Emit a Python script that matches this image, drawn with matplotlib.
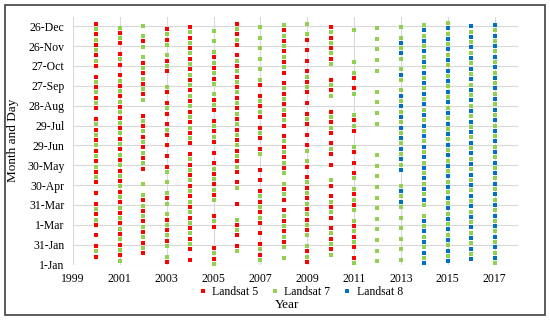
import matplotlib
matplotlib.use("Agg")
import matplotlib.pyplot as plt
from matplotlib.patches import Rectangle
from matplotlib.lines import Line2D

# ---- data: acquisition day (days after 1-Jan) per year ----
L5 = {
    2000: [364, 348, 332, 316, 300, 284, 268, 252, 236, 220, 204, 188, 172, 156, 140, 124, 108, 92, 76, 60, 44, 28, 12],
    2001: [350, 334, 318, 302, 286, 270, 254, 238, 222, 206, 190, 174, 158, 142, 126, 110, 94, 78, 62, 46, 30, 14],
    2002: [337, 305, 289, 273, 257, 225, 209, 193, 177, 161, 145, 97, 81, 65, 49, 33, 17],
    2003: [356, 340, 308, 292, 260, 244, 228, 212, 196, 180, 164, 148, 100, 68, 52, 36, 4],
    2004: [359, 343, 327, 311, 295, 279, 263, 247, 231, 215, 199, 183, 167, 151, 135, 119, 103, 87, 71, 55, 39, 23, 7],
    2005: [313, 297, 281, 249, 233, 217, 201, 185, 169, 153, 137, 121, 105, 73, 57, 25, 9],
    2006: [364, 348, 332, 316, 300, 284, 268, 252, 236, 220, 204, 188, 172, 156, 140, 124, 92, 60, 44, 28],
    2007: [271, 255, 239, 223, 207, 191, 175, 143, 127, 111, 95, 79, 63, 47, 31, 15],
    2008: [354, 338, 322, 306, 290, 274, 258, 242, 226, 210, 194, 178, 162, 146, 114, 98, 82, 66, 50, 34],
    2009: [340, 324, 308, 292, 276, 260, 244, 228, 212, 196, 180, 148, 132, 116, 100, 84, 68, 52, 20, 4],
    2010: [359, 343, 327, 311, 279, 263, 231, 215, 199, 183, 167, 151, 119, 103, 87, 71, 55, 39, 23],
    2011: [282, 266, 218, 202, 170, 154, 138, 106, 90, 58, 42, 26, 10],
}
L7 = {
    2000: [356, 340, 324, 308, 276, 260, 244, 212, 196, 180, 164, 148, 132, 84, 68, 20],
    2001: [358, 342, 310, 278, 262, 246, 230, 214, 198, 182, 166, 150, 134, 118, 102, 86, 70, 54, 38, 22, 6],
    2002: [361, 345, 329, 313, 297, 281, 265, 249, 217, 201, 185, 169, 153, 121, 105, 89, 73, 57, 41, 25],
    2003: [348, 332, 316, 300, 268, 236, 204, 140, 124, 108, 92, 76, 60, 44, 28, 12],
    2004: [351, 335, 319, 303, 287, 271, 255, 239, 223, 207, 191, 159, 143, 127, 111, 95, 79, 63, 47, 31],
    2005: [353, 337, 321, 305, 289, 273, 257, 241, 209, 193, 145, 129, 113, 97, 65, 17, 1],
    2006: [356, 340, 308, 292, 276, 260, 244, 228, 212, 196, 180, 164, 148, 116, 68, 52, 20],
    2007: [359, 343, 327, 311, 295, 279, 247, 231, 199, 167, 103, 87, 71, 23, 7],
    2008: [362, 346, 330, 314, 298, 266, 250, 234, 218, 186, 170, 154, 138, 122, 106, 74, 58, 42, 26, 10],
    2009: [364, 348, 284, 268, 220, 172, 156, 124, 108, 92, 76, 60, 44, 28, 12],
    2010: [351, 335, 319, 303, 271, 255, 223, 207, 175, 127, 95, 79, 47, 31, 15],
    2011: [354, 306, 290, 258, 226, 210, 178, 130, 114, 98, 82, 66, 50, 34, 2],
    2012: [357, 341, 325, 309, 293, 261, 245, 229, 213, 165, 149, 133, 117, 101, 85, 69, 53, 37, 21, 5],
    2013: [359, 343, 327, 311, 295, 279, 263, 247, 231, 215, 199, 183, 167, 151, 119, 103, 87, 71, 55, 39, 23, 7],
    2014: [362, 346, 330, 314, 298, 282, 266, 250, 234, 218, 202, 186, 170, 154, 138, 122, 106, 90, 74, 58, 42, 26, 10],
    2015: [365, 349, 333, 317, 301, 285, 269, 253, 237, 221, 205, 189, 173, 157, 141, 125, 109, 93, 77, 61, 45, 29, 13],
    2016: [352, 336, 320, 304, 288, 272, 256, 240, 224, 208, 192, 176, 160, 144, 128, 112, 96, 80, 64, 48, 32, 16],
    2017: [354, 338, 322, 306, 290, 274, 258, 242, 226, 210, 194, 178, 162, 146, 130, 114, 98, 82, 66, 50, 34, 18, 2],
}
L8 = {
    2013: [335, 319, 287, 255, 239, 223, 207, 191, 175, 159, 143, 111, 95],
    2014: [354, 338, 322, 306, 290, 274, 258, 242, 226, 210, 194, 178, 162, 146, 130, 114, 98, 66, 50, 34, 18, 2],
    2015: [357, 341, 325, 309, 293, 277, 261, 245, 229, 213, 197, 181, 165, 149, 133, 117, 101, 85, 69, 53, 37, 21, 5],
    2016: [360, 344, 328, 312, 296, 280, 264, 248, 232, 216, 200, 184, 168, 152, 136, 120, 104, 88, 72, 56, 40, 24, 8],
    2017: [362, 346, 330, 314, 298, 282, 266, 250, 234, 218, 202, 186, 170, 154, 138, 122, 106, 90, 74, 58, 42, 26, 10],
}
series_names = ["Landsat 5", "Landsat 7", "Landsat 8"]
series_colors = ["#FF0000", "#92D050", "#0070C0"]

y_tick_values = [0, 30, 60, 90, 120, 150, 180, 210, 240, 270, 300, 330, 360]
y_tick_labels = ["1-Jan", "31-Jan", "1-Mar", "31-Mar", "30-Apr", "30-May", "29-Jun",
                 "29-Jul", "28-Aug", "27-Sep", "27-Oct", "26-Nov", "26-Dec"]
x_tick_values = [1999, 2001, 2003, 2005, 2007, 2009, 2011, 2013, 2015, 2017]

plt.rcParams['font.family'] = ['Liberation Serif', 'DejaVu Serif']

W, H = 550, 320
fig = plt.figure(figsize=(W / 100, H / 100), dpi=100)
ax = fig.add_axes([73 / W, 1 - 264.5 / H, (518 - 73) / W, (264.5 - 17) / H])

for data, name, col in zip([L5, L7, L8], series_names, series_colors):
    xs, ys = [], []
    for yr, days in data.items():
        xs += [yr] * len(days)
        ys += days
    ax.scatter(xs, ys, marker='s', s=12, c=col, linewidths=0, label=name, zorder=3)

ax.set_xlim(1999, 2018)
ax.set_ylim(0, 374)
ax.set_xticks(x_tick_values)
ax.set_xticklabels([str(v) for v in x_tick_values], fontsize=8.5)
ax.set_yticks(y_tick_values)
ax.set_yticklabels(y_tick_labels, fontsize=8.5)
ax.tick_params(axis='y', length=0, pad=6)
ax.tick_params(axis='x', length=0, pad=6)
ax.grid(True, color="#D9D9D9", linewidth=0.8, zorder=0)
ax.set_axisbelow(True)
for s in ax.spines.values():
    s.set_visible(False)

ax.set_ylabel("Month and Day", fontsize=9.5, labelpad=6)
fig.text(0.522, 1 - 305 / H, "Year", ha="center", va="center", fontsize=9.5)

handles = [Line2D([], [], marker='s', linestyle='none', markersize=3.4, color=c, markeredgewidth=0)
           for c in series_colors]
fig.legend(handles, series_names, loc="center", bbox_to_anchor=(301 / W, 1 - 292 / H),
           ncol=3, frameon=False, fontsize=8.5, handlelength=0.6, handletextpad=0.5,
           columnspacing=1.1, borderpad=0)

fig.patches.append(Rectangle((4.5 / W, 1 - 314.5 / H), (544.5 - 4.5) / W, (314.5 - 5) / H,
                             transform=fig.transFigure, fill=False, edgecolor="#404040",
                             linewidth=1.2))

fig.savefig("out.png", dpi=100)
